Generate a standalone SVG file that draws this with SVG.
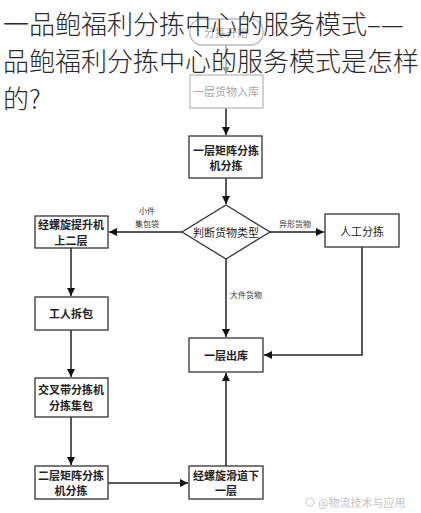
<svg xmlns="http://www.w3.org/2000/svg" width="421" height="513" viewBox="0 0 421 513">
<style>
.box{fill:#fff;stroke:#333;stroke-width:1.3}
.faint{fill:#fff;stroke:#bbb;stroke-width:1.3}
.t{font-family:"Noto Sans CJK SC","Noto Sans",sans-serif;font-size:11px;fill:#222;text-anchor:middle;dominant-baseline:central;font-weight:bold}
.tf{font-family:"Noto Sans CJK SC","Noto Sans",sans-serif;font-size:11px;fill:#aaa;text-anchor:middle;dominant-baseline:central}
.lb{font-family:"Noto Sans CJK SC","Noto Sans",sans-serif;font-size:8px;fill:#333;dominant-baseline:central}
.ln{fill:none;stroke:#222;stroke-width:1.5}
.lnf{fill:none;stroke:#999;stroke-width:1.3}
.title{font-family:"Noto Sans CJK SC","Noto Sans",sans-serif;font-size:26px;fill:#2a2a2a;font-weight:300}
</style>
<defs>
<marker id="ah" viewBox="0 0 10 10" refX="10" refY="5" markerWidth="8" markerHeight="8" orient="auto" markerUnits="userSpaceOnUse">
<path d="M0,0 L10,5 L0,10 Z" fill="#111"/>
</marker>
<marker id="ahf" viewBox="0 0 10 10" refX="10" refY="5" markerWidth="7" markerHeight="7" orient="auto" markerUnits="userSpaceOnUse">
<path d="M0,0 L10,5 L0,10 Z" fill="#999"/>
</marker>
</defs>
<rect width="421" height="513" fill="#fff"/>
<g id="connectors">
<path class="lnf" d="M226,45 V74" marker-end="url(#ahf)"/>
<path class="ln" d="M226,108 V135" marker-end="url(#ah)"/>
<path class="ln" d="M226,178 V204" marker-end="url(#ah)"/>
<path class="ln" d="M182,232 H109" marker-end="url(#ah)"/>
<path class="ln" d="M270,232 H324" marker-end="url(#ah)"/>
<path class="ln" d="M226,259 V337" marker-end="url(#ah)"/>
<path class="ln" d="M362,247 V355 H264" marker-end="url(#ah)"/>
<path class="ln" d="M226,466 V373" marker-end="url(#ah)"/>
<path class="ln" d="M71,248 V296" marker-end="url(#ah)"/>
<path class="ln" d="M71,330 V377" marker-end="url(#ah)"/>
<path class="ln" d="M71,417 V465" marker-end="url(#ah)"/>
<path class="ln" d="M108,483 H188" marker-end="url(#ah)"/>
<text class="lb" x="147" y="210" text-anchor="middle">小件</text>
<text class="lb" x="147" y="223" text-anchor="middle">集包袋</text>
<text class="lb" x="279" y="223">异形货物</text>
<text class="lb" x="230" y="294">大件货物</text>
</g>
<g id="n-start">
<rect class="faint" x="190" y="19" width="73" height="26" rx="12"/>
<text class="tf" x="226" y="32">分拣开始</text>
</g>
<g id="n-inbound">
<rect class="faint" x="190" y="75" width="73" height="33"/>
<text class="tf" x="226" y="91">一层货物入库</text>
</g>
<g id="n-matrix1">
<rect class="box" x="189" y="136" width="73" height="42"/>
<text class="t" x="226" y="150">一层矩阵分拣</text>
<text class="t" x="226" y="165">机分拣</text>
</g>
<g id="n-judge">
<path class="box" d="M226,205 L270,232 L226,259 L182,232 Z"/>
<text class="t" x="226" y="232" style="font-weight:normal">判断货物类型</text>
</g>
<g id="n-manual">
<rect class="box" x="325" y="214" width="74" height="33"/>
<text class="t" x="362" y="231" style="font-weight:normal">人工分拣</text>
</g>
<g id="n-lift">
<rect class="box" x="35" y="216" width="73" height="32"/>
<text class="t" x="71" y="224">经螺旋提升机</text>
<text class="t" x="71" y="240">上二层</text>
</g>
<g id="n-unpack">
<rect class="box" x="35" y="297" width="73" height="33"/>
<text class="t" x="71" y="313">工人拆包</text>
</g>
<g id="n-cross">
<rect class="box" x="35" y="378" width="73" height="39"/>
<text class="t" x="71" y="389">交叉带分拣机</text>
<text class="t" x="71" y="405">分拣集包</text>
</g>
<g id="n-matrix2">
<rect class="box" x="35" y="466" width="73" height="33"/>
<text class="t" x="71" y="475">二层矩阵分拣</text>
<text class="t" x="71" y="490">机分拣</text>
</g>
<g id="n-outbound">
<rect class="box" x="189" y="338" width="74" height="34"/>
<text class="t" x="226" y="355">一层出库</text>
</g>
<g id="n-chute">
<rect class="box" x="189" y="466" width="74" height="33"/>
<text class="t" x="226" y="475">经螺旋滑道下</text>
<text class="t" x="226" y="490">一层</text>
</g>
<g id="watermark">
<circle cx="310" cy="502" r="4" fill="none" stroke="#ccc" stroke-width="1.2"/>
<text x="318" y="502" font-family="'Noto Sans CJK SC',sans-serif" font-size="11" fill="#c4c4c4" dominant-baseline="central">@物流技术与应用</text>
</g>
<g id="title">
<text class="title" x="3" y="34">一品鲍福利分拣中心的服务模式–—</text>
<text class="title" x="3" y="71">品鲍福利分拣中心的服务模式是怎样</text>
<text class="title" x="3" y="109">的?</text>
</g>
</svg>
